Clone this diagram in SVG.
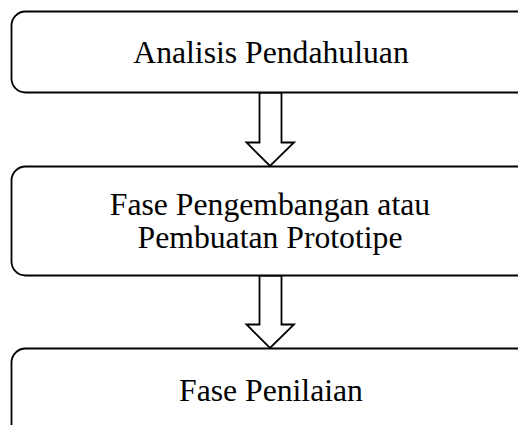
<svg xmlns="http://www.w3.org/2000/svg" width="518" height="425" viewBox="0 0 518 425">
<style>
.box{fill:#fff;stroke:#000;stroke-width:1.8}
.arr{fill:#fff;stroke:#000;stroke-width:1.8;stroke-linejoin:miter}
.t{font-family:"Liberation Serif","Times New Roman",serif;font-size:31.7px;fill:#000;text-anchor:middle}
</style>
<rect width="518" height="425" fill="#fff"/>
<g id="connectors">
<polygon class="arr" points="259.5,92.5 281.5,92.5 281.5,142.5 294,142.5 270,166 246.5,142.5 259.5,142.5"/>
<polygon class="arr" points="259.5,275.5 281.5,275.5 281.5,324.5 294,324.5 270,348 246.5,324.5 259.5,324.5"/>
</g>
<g id="node1">
<rect class="box" x="11.5" y="11.5" width="540" height="81" rx="14" ry="14"/>
<text class="t" x="271" y="62.5">Analisis Pendahuluan</text>
</g>
<g id="node2">
<rect class="box" x="11.5" y="166.5" width="540" height="109" rx="14" ry="14"/>
<text class="t" x="270" y="214.5">Fase Pengembangan atau</text>
<text class="t" x="270" y="248">Pembuatan Prototipe</text>
</g>
<g id="node3">
<rect class="box" x="11.5" y="348.5" width="540" height="100" rx="14" ry="14"/>
<text class="t" x="271" y="400.5">Fase Penilaian</text>
</g>
</svg>
